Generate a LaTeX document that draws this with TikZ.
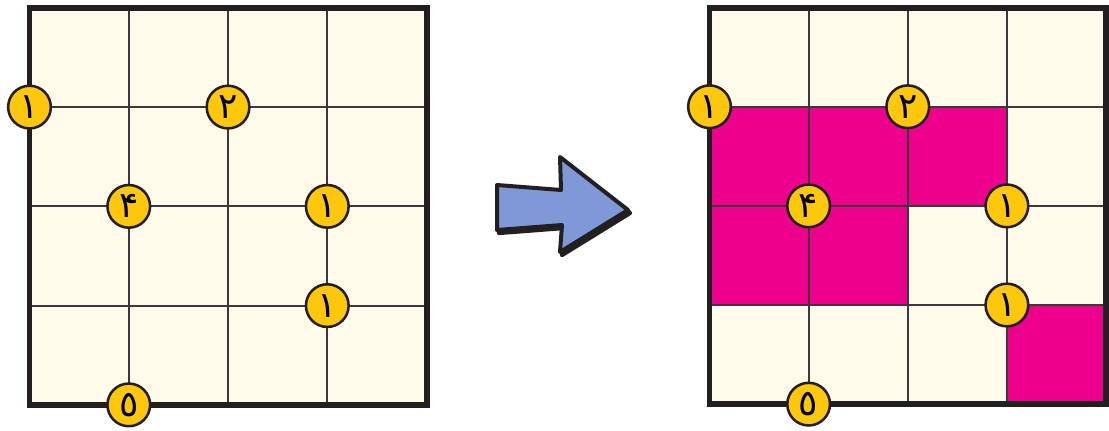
\documentclass[tikz,border=0pt]{standalone}
\usepackage{fontspec}
\newfontfamily\arabicfont[Script=Arabic]{DejaVu Sans}
\definecolor{cream}{HTML}{FFFBEA}
\definecolor{ink}{HTML}{231F20}
\definecolor{gridline}{HTML}{3A3A3A}
\definecolor{coin}{HTML}{FDC70C}
\definecolor{magen}{HTML}{EC008C}
\definecolor{arrowblue}{HTML}{7F98D8}
\tikzset{
  coinnode/.style={circle, fill=coin, draw=ink, line width=1.9pt, minimum size=32pt, inner sep=0pt,
    font=\arabicfont\fontsize{27}{27}\selectfont},
  thin grid/.style={draw=gridline, line width=1.4pt},
  frame/.style={draw=ink, line width=4.4pt},
  pinkcell/.style={fill=magen}
}
\begin{document}
\begin{tikzpicture}[x=0.75pt,y=-0.75pt]
\useasboundingbox (0,0) rectangle (1109,430);
% left board
\begin{scope}[shift={(29.5,7.8)}, x=74.45pt, y=-74.45pt]
  \fill[cream] (0,0) rectangle (4,4);
  \foreach \k in {1,2,3} {
    \draw[thin grid] (\k,0) -- (\k,4);
    \draw[thin grid] (0,\k) -- (4,\k);
  }
  \draw[frame] (0,0) rectangle (4,4);
  \node[coinnode] (La) at (0,1) {۱};
  \node[coinnode] (Lb) at (2,1) {۲};
  \node[coinnode] (Lc) at (1,2) {۴};
  \node[coinnode] (Ld) at (3,2) {۱};
  \node[coinnode] (Le) at (3,3) {۱};
  \node[coinnode] (Lf) at (1,4) {٥};
\end{scope}
% right board
\begin{scope}[shift={(709.5,7.6)}, x=74.35pt, y=-74.35pt]
  \fill[cream] (0,0) rectangle (4,4);
  \fill[pinkcell] (0,1) rectangle (3,2);
  \fill[pinkcell] (0,2) rectangle (2,3);
  \fill[pinkcell] (3,3) rectangle (4,4);
  \foreach \k in {1,2,3} {
    \draw[thin grid] (\k,0) -- (\k,4);
    \draw[thin grid] (0,\k) -- (4,\k);
  }
  \draw[frame] (0,0) rectangle (4,4);
  \node[coinnode] (Ra) at (0,1) {۱};
  \node[coinnode] (Rb) at (2,1) {۲};
  \node[coinnode] (Rc) at (1,2) {۴};
  \node[coinnode] (Rd) at (3,2) {۱};
  \node[coinnode] (Re) at (3,3) {۱};
  \node[coinnode] (Rf) at (1,4) {٥};
\end{scope}
% arrow
\begin{scope}[shift={(2,3)}]
  \draw[ink, fill=ink, line width=3.2pt, line join=round] (497,185) -- (561,190) -- (560,157) -- (628,210) -- (560,252) -- (562,225) -- (497,230) -- cycle;
\end{scope}
\draw[fill=arrowblue, draw=ink, line width=3pt, line join=round] (497,185) -- (561,190) -- (560,157) -- (628,210) -- (560,252) -- (562,225) -- (497,230) -- cycle;
\end{tikzpicture}
\end{document}
